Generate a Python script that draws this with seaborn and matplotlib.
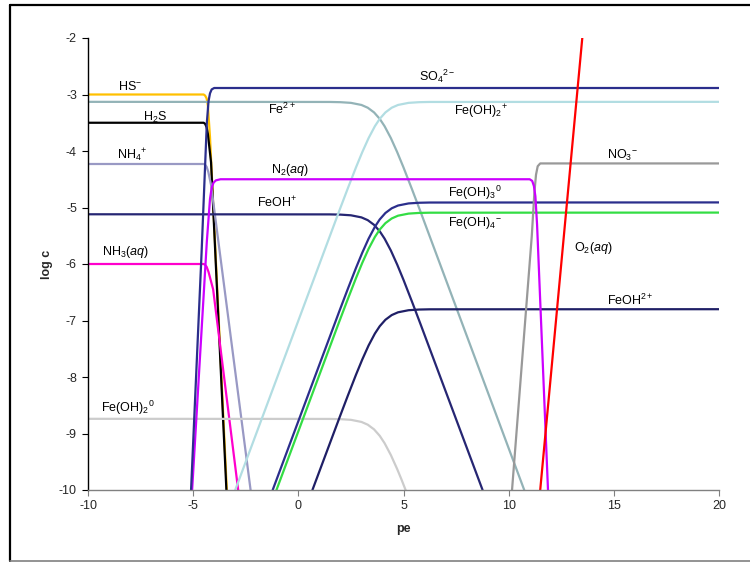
import matplotlib
matplotlib.use("Agg")
import matplotlib.pyplot as plt
import seaborn as sns
import pandas as pd
from matplotlib.lines import Line2D

sns.set_theme(style="white")
plt.rcParams['font.family'] = ['Liberation Sans', 'DejaVu Sans']
plt.rcParams['mathtext.fontset'] = 'custom'
plt.rcParams['mathtext.rm'] = 'Liberation Sans'
plt.rcParams['mathtext.it'] = 'Liberation Sans:italic'
plt.rcParams['mathtext.bf'] = 'Liberation Sans:bold'

# ---- data (pe, log c) ----
hs_pe = [-10, -4.5, -4.43, -4.36, -4.3, -4.2, -3.40]
hs_lc = [-3.0, -3.0, -3.02, -3.07, -3.2, -3.75, -10]

h2s_pe = [-10, -4.5, -4.43, -4.36, -4.3, -4.15, -3.42]
h2s_lc = [-3.5, -3.5, -3.52, -3.58, -3.7, -4.2, -10]

nh4_pe = [-10, -4.5, -4.43, -4.36, -4.28, -4.15, -2.27]
nh4_lc = [-4.23, -4.23, -4.245, -4.28, -4.37, -4.6, -10]

nh3_pe = [-10, -4.5, -4.43, -4.36, -4.27, -4.05, -2.86]
nh3_lc = [-6.0, -6.0, -6.015, -6.05, -6.14, -6.45, -10]

so4_pe = [-5.1, -4.6, -4.35, -4.27, -4.2, -4.12, -4.0, 20]
so4_lc = [-10, -5.8, -3.5, -3.12, -2.98, -2.91, -2.885, -2.885]

n2_pe = [-5.05, -4.35, -4.2, -4.12, -4.03, -3.92, -3.7, 11.0, 11.12, 11.2, 11.27, 11.35, 11.87]
n2_lc = [-10, -5.6, -4.85, -4.65, -4.56, -4.52, -4.5, -4.5, -4.53, -4.62, -4.8, -5.3, -10]

no3_pe = [10.16, 11.1, 11.22, 11.3, 11.38, 11.5, 20]
no3_lc = [-10, -5.5, -4.75, -4.42, -4.27, -4.22, -4.22]

o2_pe = [11.5, 13.5]
o2_lc = [-10, -2.0]

fe2_pe = [-10, 1.5, 2.0, 2.5, 3.0, 3.3, 3.6, 3.87, 4.1, 4.4, 4.7, 5.0, 5.4, 5.8, 10.74]
fe2_lc = [-3.13, -3.132, -3.136, -3.148, -3.185, -3.234, -3.317, -3.431, -3.561,
          -3.772, -4.020, -4.291, -4.673, -5.065, -10]

feoh_pe = [-10, 1.5, 2.0, 2.5, 3.0, 3.3, 3.6, 3.87, 4.1, 4.4, 4.7, 5.0, 5.4, 5.8, 8.76]
feoh_lc = [-5.12, -5.122, -5.126, -5.138, -5.175, -5.224, -5.307, -5.421, -5.551,
           -5.762, -6.010, -6.281, -6.663, -7.055, -10]

feoh2_0_pe = [-10, 1.5, 2.0, 2.5, 3.0, 3.3, 3.6, 3.87, 4.1, 4.4, 4.7, 4.9, 5.1]
feoh2_0_lc = [-8.74, -8.742, -8.746, -8.758, -8.795, -8.844, -8.927, -9.041, -9.171,
              -9.382, -9.630, -9.81, -10]

feoh2p_pe = [-3.0, 1.94, 2.34, 2.74, 3.04, 3.34, 3.64, 3.87, 4.14, 4.44, 4.74, 5.24, 5.74, 6.24, 20]
feoh2p_lc = [-10, -5.065, -4.673, -4.291, -4.020, -3.772, -3.561, -3.431, -3.317,
             -3.234, -3.185, -3.148, -3.136, -3.132, -3.13]

feoh3_pe = [-1.22, 1.94, 2.34, 2.74, 3.04, 3.34, 3.64, 3.87, 4.14, 4.44, 4.74, 5.24, 5.74, 6.24, 20]
feoh3_lc = [-10, -6.845, -6.453, -6.071, -5.800, -5.552, -5.341, -5.211, -5.097,
            -5.014, -4.965, -4.928, -4.916, -4.912, -4.91]

feoh4_pe = [-1.04, 1.94, 2.34, 2.74, 3.04, 3.34, 3.64, 3.87, 4.14, 4.44, 4.74, 5.24, 5.74, 6.24, 20]
feoh4_lc = [-10, -7.025, -6.633, -6.251, -5.980, -5.732, -5.521, -5.391, -5.277,
            -5.194, -5.145, -5.108, -5.096, -5.092, -5.09]

feoh2plus_pe = [0.67, 1.94, 2.34, 2.74, 3.04, 3.34, 3.64, 3.87, 4.14, 4.44, 4.74, 5.24, 5.74, 6.24, 20]
feoh2plus_lc = [-10, -8.735, -8.343, -7.961, -7.690, -7.442, -7.231, -7.101, -6.987,
                -6.904, -6.855, -6.818, -6.806, -6.802, -6.80]

series = [
    ("HS-", hs_pe, hs_lc, "#FFC000"),
    ("H2S", h2s_pe, h2s_lc, "#000000"),
    ("NH4+", nh4_pe, nh4_lc, "#9999C4"),
    ("NH3", nh3_pe, nh3_lc, "#FF00CC"),
    ("Fe(OH)2_0", feoh2_0_pe, feoh2_0_lc, "#CCCCCC"),
    ("Fe2+", fe2_pe, fe2_lc, "#93B3B7"),
    ("FeOH+", feoh_pe, feoh_lc, "#262673"),
    ("Fe(OH)2+", feoh2p_pe, feoh2p_lc, "#B2DDE2"),
    ("FeOH2+", feoh2plus_pe, feoh2plus_lc, "#1F1F66"),
    ("Fe(OH)4-", feoh4_pe, feoh4_lc, "#33DD44"),
    ("Fe(OH)3", feoh3_pe, feoh3_lc, "#2B2E8C"),
    ("NO3-", no3_pe, no3_lc, "#999999"),
    ("N2", n2_pe, n2_lc, "#CC00FF"),
    ("SO4", so4_pe, so4_lc, "#2B2E8C"),
    ("O2", o2_pe, o2_lc, "#FF0000"),
]

rows = []
for name, xs, ys, _ in series:
    for i, (x, y) in enumerate(zip(xs, ys)):
        rows.append({"species": name, "pe": x, "logc": y, "order": i})
df = pd.DataFrame(rows)

fig = plt.figure(figsize=(7.5, 5.62), dpi=100)
ax = fig.add_axes([88/750, 1-490/562, (719-88)/750, (490-38)/562])

for name, _, _, c in series:
    sub = df[df.species == name]
    sns.lineplot(data=sub, x="pe", y="logc", sort=False, estimator=None,
                 color=c, lw=1.6, ax=ax, legend=False)

ax.set_xlim(-10, 20)
ax.set_ylim(-10, -2)
ax.set_xticks([-10, -5, 0, 5, 10, 15, 20])
ax.set_yticks([-10, -9, -8, -7, -6, -5, -4, -3, -2])
ax.set_xticklabels(["-10", "-5", "0", "5", "10", "15", "20"])
ax.set_yticklabels(["-10", "-9", "-8", "-7", "-6", "-5", "-4", "-3", "-2"])
for s in ["top", "right"]:
    ax.spines[s].set_visible(False)
ax.spines["left"].set_color("black")
ax.spines["left"].set_linewidth(1.0)
ax.spines["bottom"].set_color("#808080")
ax.spines["bottom"].set_linewidth(1.0)
ax.tick_params(axis="y", direction="out", length=4, width=0.8, color="black",
               labelsize=9, pad=4, left=True)
ax.tick_params(axis="x", direction="out", length=4, width=0.8, color="#808080",
               labelsize=9, pad=3, bottom=True)
ax.set_xlabel("pe", fontsize=9, fontweight="bold", labelpad=8)
ax.set_ylabel("log c", fontsize=9, fontweight="bold", labelpad=4)

fs = 9
labels = [
    (-8.0, -2.85, r"HS$^{-}$"),
    (-6.8, -3.40, r"H$_{2}$S"),
    (-7.9, -4.07, r"NH$_{4}$$^{+}$"),
    (-8.2, -5.79, r"NH$_{3}$($\it{aq}$)"),
    (-8.1, -8.55, r"Fe(OH)$_{2}$$^{0}$"),
    (-0.8, -3.26, r"Fe$^{2+}$"),
    (6.6, -2.67, r"SO$_{4}$$^{2-}$"),
    (8.7, -3.31, r"Fe(OH)$_{2}$$^{+}$"),
    (-0.4, -4.34, r"N$_{2}$($\it{aq}$)"),
    (-1.0, -4.92, r"FeOH$^{+}$"),
    (15.4, -4.07, r"NO$_{3}$$^{-}$"),
    (8.4, -4.74, r"Fe(OH)$_{3}$$^{0}$"),
    (8.4, -5.27, r"Fe(OH)$_{4}$$^{-}$"),
    (14.0, -5.72, r"O$_{2}$($\it{aq}$)"),
    (15.8, -6.64, r"FeOH$^{2+}$"),
]
for x, y, t in labels:
    ax.text(x, y, t, fontsize=fs, ha="center", va="center", color="black")

# outer frame
fig.add_artist(Line2D([9.6/750, 9.6/750], [1-561/562, 1-5/562], transform=fig.transFigure,
                      color="black", lw=1.6))
fig.add_artist(Line2D([9.6/750, 1.0], [1-5/562, 1-5/562], transform=fig.transFigure,
                      color="black", lw=1.6))
fig.add_artist(Line2D([9.6/750, 1.0], [1-561/562, 1-561/562], transform=fig.transFigure,
                      color="#808080", lw=1.2))

fig.savefig("out.png", dpi=100)
